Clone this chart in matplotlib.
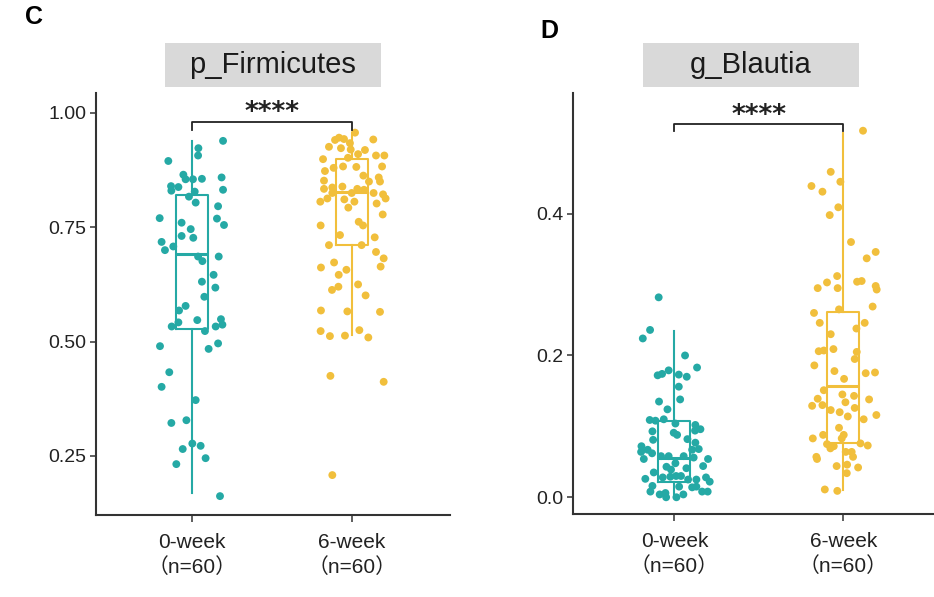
import matplotlib
matplotlib.use("Agg")
import matplotlib.pyplot as plt
from matplotlib.patches import Rectangle

plt.rcParams['font.family'] = ['Liberation Sans', 'Noto Sans CJK SC', 'DejaVu Sans']

TEAL = "#25A9A5"
GOLD = "#F1BF3C"
AXCOL = "#333333"

groups = ["0-week\n（n=60）", "6-week\n（n=60）"]

# p_Firmicutes, relative abundance
firm_0w = [0.939, 0.923, 0.907, 0.895, 0.865, 0.855, 0.855, 0.856, 0.859, 0.840,
           0.838, 0.830, 0.828, 0.832, 0.817, 0.804, 0.796, 0.770, 0.769, 0.760,
           0.755, 0.746, 0.731, 0.727, 0.718, 0.700, 0.708, 0.686, 0.676, 0.686,
           0.646, 0.631, 0.618, 0.598, 0.578, 0.568, 0.542, 0.533, 0.547, 0.523,
           0.533, 0.549, 0.537, 0.490, 0.484, 0.496, 0.433, 0.401, 0.372, 0.322,
           0.328, 0.277, 0.272, 0.265, 0.245, 0.232, 0.162]
firm_0w_jit = [0.194, 0.040, 0.038, -0.148, -0.054, -0.040, 0.006, 0.062, 0.185, -0.131,
               -0.085, -0.129, 0.017, 0.194, -0.019, 0.023, 0.163, -0.202, 0.156, -0.065,
               0.200, -0.008, -0.065, 0.008, -0.190, -0.169, -0.117, 0.038, 0.065, 0.167,
               0.135, 0.062, 0.146, 0.077, -0.040, -0.081, -0.085, -0.127, 0.033, 0.081,
               0.148, 0.181, 0.190, -0.200, 0.104, 0.163, -0.142, -0.190, 0.023, -0.129,
               -0.035, 0.002, 0.054, -0.058, 0.085, -0.098, 0.175]
firm_6w = [0.957, 0.942, 0.941, 0.946, 0.943, 0.934, 0.926, 0.923, 0.920, 0.919,
           0.910, 0.907, 0.907, 0.899, 0.902, 0.880, 0.883, 0.882, 0.883, 0.873,
           0.863, 0.859, 0.852, 0.850, 0.850, 0.834, 0.837, 0.839, 0.834, 0.832,
           0.825, 0.825, 0.825, 0.822, 0.813, 0.806, 0.811, 0.806, 0.813, 0.802,
           0.793, 0.778, 0.754, 0.762, 0.754, 0.733, 0.728, 0.711, 0.711, 0.696,
           0.682, 0.673, 0.662, 0.664, 0.657, 0.646, 0.625, 0.620, 0.613, 0.601,
           0.568, 0.566, 0.565, 0.523, 0.512, 0.513, 0.525, 0.509, 0.425, 0.412,
           0.208]
firm_6w_jit = [0.019, 0.133, -0.106, -0.081, -0.050, -0.013, -0.144, -0.069, -0.008, 0.081,
               0.038, 0.150, 0.202, -0.181, -0.025, -0.115, -0.056, 0.027, 0.188, -0.169,
               0.071, 0.167, -0.175, 0.106, 0.175, -0.175, -0.123, -0.060, 0.033, 0.075,
               -0.123, -0.002, 0.135, 0.194, -0.154, -0.198, -0.048, 0.015, 0.210, 0.154,
               -0.023, 0.192, -0.196, 0.042, 0.069, -0.075, 0.142, -0.144, 0.060, 0.150,
               0.198, -0.112, -0.194, 0.179, -0.035, -0.083, 0.038, -0.085, -0.125, 0.085,
               -0.194, -0.029, 0.175, -0.196, -0.138, -0.044, 0.046, 0.102, -0.135, 0.198,
               -0.123]
# whisker low, q1, median, q3, whisker high
firm_box_0w = [0.168, 0.527, 0.692, 0.820, 0.939]
firm_box_6w = [0.514, 0.711, 0.828, 0.899, 0.957]

# g_Blautia
blau_0w = [0.282, 0.236, 0.224, 0.200, 0.183, 0.179, 0.174, 0.172, 0.173, 0.170,
           0.156, 0.138, 0.135, 0.124, 0.109, 0.108, 0.110, 0.104, 0.102, 0.096,
           0.091, 0.088, 0.093, 0.094, 0.081, 0.082, 0.077, 0.072, 0.067, 0.064,
           0.062, 0.067, 0.068, 0.058, 0.058, 0.058, 0.056, 0.054, 0.054, 0.043,
           0.048, 0.039, 0.041, 0.044, 0.035, 0.028, 0.029, 0.030, 0.030, 0.025,
           0.025, 0.028, 0.026, 0.022, 0.016, 0.015, 0.014, 0.015, 0.008, 0.004,
           0.006, 0.008, 0.008, 0.000, 0.000, 0.004]
blau_0w_jit = [-0.093, -0.144, -0.187, 0.063, 0.134, -0.034, -0.073, -0.099, 0.026, 0.073,
               0.026, 0.034, -0.091, -0.041, -0.146, -0.112, -0.063, 0.006, 0.124, 0.154,
               -0.004, 0.016, -0.130, 0.122, -0.126, 0.077, 0.124, -0.195, -0.158, -0.197,
               -0.132, 0.105, 0.144, -0.079, -0.034, 0.055, 0.114, -0.181, 0.199, -0.047,
               0.006, -0.020, 0.071, 0.170, -0.122, -0.069, -0.024, 0.010, 0.039, 0.081,
               0.130, 0.187, -0.172, 0.209, -0.130, 0.028, 0.105, 0.130, -0.142, -0.087,
               -0.053, 0.164, 0.197, -0.049, 0.012, 0.053]
blau_6w = [0.517, 0.459, 0.445, 0.439, 0.431, 0.409, 0.398, 0.360, 0.346, 0.337,
           0.312, 0.303, 0.295, 0.295, 0.304, 0.305, 0.298, 0.293, 0.269, 0.265,
           0.260, 0.246, 0.246, 0.238, 0.230, 0.206, 0.207, 0.209, 0.205, 0.195,
           0.186, 0.178, 0.175, 0.176, 0.167, 0.151, 0.145, 0.143, 0.139, 0.138,
           0.134, 0.129, 0.130, 0.123, 0.120, 0.126, 0.114, 0.116, 0.110, 0.098,
           0.083, 0.088, 0.088, 0.083, 0.075, 0.076, 0.073, 0.069, 0.072, 0.064,
           0.064, 0.057, 0.057, 0.054, 0.044, 0.046, 0.042, 0.034, 0.011, 0.009]
blau_6w_jit = [0.116, -0.075, -0.018, -0.189, -0.124, -0.030, -0.081, 0.045, 0.191, 0.138,
               -0.037, -0.097, -0.152, -0.034, 0.081, 0.108, 0.191, 0.197, 0.173, -0.026,
               -0.174, -0.140, 0.126, 0.077, -0.075, -0.146, -0.116, -0.059, 0.079, 0.067,
               -0.172, -0.053, 0.132, 0.187, 0.004, -0.116, -0.006, 0.063, -0.152, 0.152,
               0.012, -0.185, -0.124, -0.075, -0.022, 0.067, 0.026, 0.195, 0.120, -0.026,
               -0.181, -0.120, 0.002, -0.010, -0.097, 0.101, 0.144, -0.077, -0.057, 0.014,
               0.049, 0.057, -0.160, -0.156, -0.040, 0.022, 0.087, 0.020, -0.110, -0.036]
blau_box_0w = [0.000, 0.021, 0.055, 0.108, 0.235]
blau_box_6w = [0.010, 0.076, 0.157, 0.261, 0.514]


def box_stats(vals, label):
    lo, q1, med, q3, hi = vals
    return dict(whislo=lo, q1=q1, med=med, q3=q3, whishi=hi, fliers=[], label=label)


def draw_panel(ax, pts, jits, boxes, ylim, yticks, yticklabels, width, sig_y, sig_tick):
    colors = [TEAL, GOLD]
    for i in range(2):
        pos = i + 1
        c = colors[i]
        ax.bxp([box_stats(boxes[i], groups[i])], positions=[pos], widths=width,
               showfliers=False, showcaps=False, patch_artist=False,
               boxprops=dict(color=c, linewidth=1.5),
               whiskerprops=dict(color=c, linewidth=1.5),
               medianprops=dict(color=c, linewidth=2.2),
               zorder=2)
        xs = [pos + j for j in jits[i]]
        ax.scatter(xs, pts[i], s=32, color=c, edgecolors='none', zorder=3)

    ax.set_ylim(*ylim)
    ax.set_yticks(yticks)
    ax.set_yticklabels(yticklabels)
    ax.set_xticks([1, 2])
    ax.set_xticklabels(groups, fontsize=15, color="#222222", linespacing=1.3)
    ax.tick_params(axis='y', labelsize=14, labelcolor="#222222", length=4,
                   width=1.1, color=AXCOL, pad=3)
    ax.tick_params(axis='x', length=5, width=1.1, color=AXCOL, pad=8)
    for side in ['top', 'right']:
        ax.spines[side].set_visible(False)
    for side in ['left', 'bottom']:
        ax.spines[side].set_color(AXCOL)
        ax.spines[side].set_linewidth(1.5)

    # significance bracket
    ax.plot([1, 1, 2, 2], [sig_tick, sig_y, sig_y, sig_tick], color="#222222",
            linewidth=1.3, clip_on=False, zorder=4)
    ax.annotate("****", (1.5, sig_y), xytext=(0, -3), textcoords='offset points',
                ha='center', va='bottom', fontsize=19, fontweight='bold',
                family='DejaVu Sans', color="#222222")


fig = plt.figure(figsize=(9.34, 5.97), dpi=100)
W, H = 934.0, 597.0

ax1 = fig.add_axes([96 / W, (H - 515) / H, 354 / W, 422 / H])
ax1.set_xlim(0.4, 0.4 + 354 / 160)
draw_panel(ax1, [firm_0w, firm_6w], [firm_0w_jit, firm_6w_jit],
           [firm_box_0w, firm_box_6w], (0.1207, 1.0437),
           [0.25, 0.50, 0.75, 1.00], ["0.25", "0.50", "0.75", "1.00"],
           0.2, 0.980, 0.963)

ax2 = fig.add_axes([573 / W, (H - 514) / H, 361 / W, 421 / H])
ax2.set_xlim(0.4, 0.4 + 361 / 169)
draw_panel(ax2, [blau_0w, blau_6w], [blau_0w_jit, blau_6w_jit],
           [blau_box_0w, blau_box_6w], (-0.0236, 0.5702),
           [0.0, 0.2, 0.4], ["0.0", "0.2", "0.4"],
           0.19, 0.526, 0.5166)

# facet strip labels
for (x0, x1, label) in [(165, 381, "p_Firmicutes"), (643, 859, "g_Blautia")]:
    fig.add_artist(Rectangle((x0 / W, (H - 87) / H), (x1 - x0) / W, 44 / H,
                             transform=fig.transFigure, facecolor="#D9D9D9",
                             edgecolor='none'))
    fig.text((x0 + x1) / 2 / W, (H - 65) / H, label, ha='center', va='center',
             fontsize=21, color="#1a1a1a")

# panel letters
fig.text(25 / W, (H - 17) / H, "C", fontsize=18, fontweight='bold', va='center', ha='left')
fig.text(540 / W, (H - 31) / H, "D", fontsize=18, fontweight='bold', va='center', ha='left')

fig.savefig("out.png", dpi=100)
